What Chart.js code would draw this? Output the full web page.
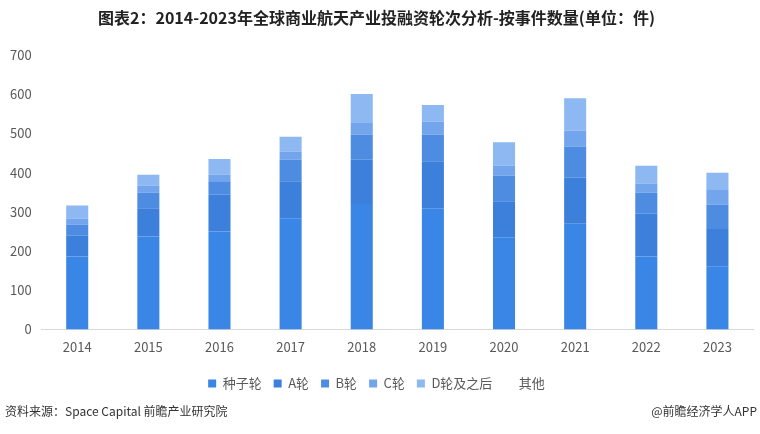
<!DOCTYPE html>
<html>
<head>
<meta charset="utf-8">
<script src="https://cdn.jsdelivr.net/npm/chart.js@4"></script>
<style>
  html, body { margin: 0; padding: 0; background: #fff; }
  #wrap { position: relative; width: 760px; height: 434px; }
</style>
</head>
<body>
<div id="wrap"><canvas id="bar-chart"></canvas></div>
<script>
// 年份
const years = ['2014', '2015', '2016', '2017', '2018', '2019', '2020', '2021', '2022', '2023'];

// 各轮次事件数量
const seedRound = [186, 237, 250, 284, 320, 309, 235, 270, 186, 161];
const roundA    = [53, 72, 94, 94, 113, 120, 92, 117, 109, 95];
const roundB    = [28, 40, 34, 55, 64, 68, 66, 80, 54, 62];
const roundC    = [16, 18, 17, 21, 30, 34, 25, 41, 23, 40];
const roundD    = [33, 28, 40, 38, 74, 42, 60, 82, 46, 42];
const others    = [0, 0, 0, 0, 0, 0, 0, 0, 0, 0];

const yTicks = [0, 100, 200, 300, 400, 500, 600, 700];

const FONT = '"Noto Sans CJK SC", "Noto Sans", sans-serif';

// 底部来源文字
const footerPlugin = {
    id: 'footer',
    afterDraw(chart) {
        const c = chart.ctx;
        c.save();
        c.font = '12px ' + FONT;
        c.fillStyle = '#333333';
        c.textBaseline = 'middle';
        c.textAlign = 'left';
        c.fillText('资料来源：Space Capital 前瞻产业研究院', 5, 411);
        c.textAlign = 'right';
        c.fillText('@前瞻经济学人APP', 757, 411);
        c.restore();
    }
};

function makeSet(label, data, color) {
    return {
        label: label,
        data: data,
        backgroundColor: color,
        borderWidth: 0,
        categoryPercentage: 1,
        barPercentage: 0.31
    };
}

const ctx = document.getElementById('bar-chart').getContext('2d');
const myChart = new Chart(ctx, {
    type: 'bar',
    data: {
        labels: years,
        datasets: [
            makeSet('种子轮', seedRound, '#3A86E6'),
            makeSet('A轮', roundA, '#3D80DB'),
            makeSet('B轮', roundB, '#4E8CE2'),
            makeSet('C轮', roundC, '#72A5EC'),
            makeSet('D轮及之后', roundD, '#8DB8F2'),
            makeSet('其他', others, '#FFFFFF')
        ]
    },
    options: {
        responsive: true,
        maintainAspectRatio: false,
        animation: false,
        layout: { padding: { left: 0, right: 7, bottom: 34 } },
        plugins: {
            title: {
                display: true,
                text: '图表2：2014-2023年全球商业航天产业投融资轮次分析-按事件数量(单位：件)',
                color: '#222222',
                font: { family: FONT, size: 16, weight: 'bold' },
                padding: { top: 8, bottom: 28 }
            },
            legend: {
                position: 'bottom',
                labels: {
                    color: '#595959',
                    font: { family: FONT, size: 13 },
                    boxWidth: 8,
                    boxHeight: 8,
                    padding: 12
                }
            },
            tooltip: { enabled: false }
        },
        scales: {
            x: {
                stacked: true,
                grid: { display: false, drawTicks: false },
                border: { color: '#d9d9d9', width: 1 },
                ticks: { color: '#595959', font: { family: FONT, size: 13 }, padding: 10 }
            },
            y: {
                stacked: true,
                min: 0,
                max: 700,
                afterBuildTicks(axis) { axis.ticks = yTicks.map(v => ({ value: v })); },
                grid: { display: false, drawTicks: false },
                border: { display: false },
                ticks: { color: '#595959', font: { family: FONT, size: 13 }, padding: 10 }
            }
        }
    },
    plugins: [footerPlugin]
});
</script>
</body>
</html>
